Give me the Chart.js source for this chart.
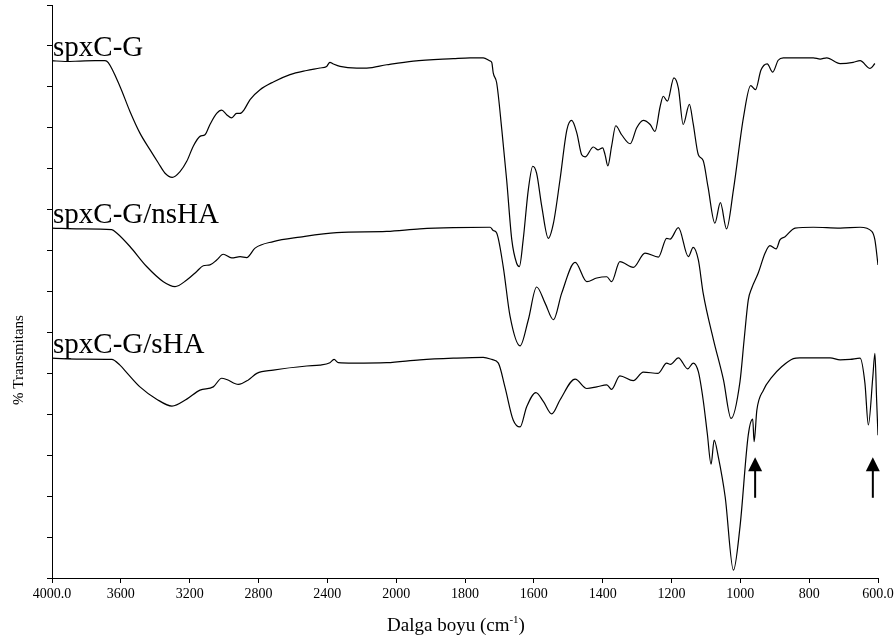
<!DOCTYPE html>
<html><head><meta charset="utf-8">
<script src="https://cdn.jsdelivr.net/npm/chart.js@4.4.1/dist/chart.umd.min.js"></script>
<style>html,body{margin:0;padding:0;background:#fff;}#wrap{width:894px;height:641px;}</style>
</head><body><div id="wrap"><canvas id="c" width="894" height="641"></canvas></div>
<script>
// ---- data ----
const seriesNames = ['spxC-G', 'spxC-G/nsHA', 'spxC-G/sHA'];
const xTickValues = [4000, 3600, 3200, 2800, 2400, 2000, 1800, 1600, 1400, 1200, 1000, 800, 600];
const xTickLabels = ['4000.0', '3600', '3200', '2800', '2400', '2000', '1800', '1600', '1400', '1200', '1000', '800', '600.0'];

const spxCG_wn = [4000,3924,3837,3750,3692,3673,3605,3547,3489,3430,3382,3343,3301,3256,3217,3179,3140,3111,3082,3043,3014,2985,2956,2927,2907,2884,2849,2791,2714,2617,2520,2443,2404,2385,2365,2326,2229,2171,2055,1950,1834,1785,1747,1727,1722,1718,1708,1693,1679,1664,1650,1642,1631,1616,1603,1592,1577,1558,1543,1524,1504,1490,1475,1461,1451,1427,1413,1400,1393,1385,1374,1362,1345,1320,1301,1282,1262,1248,1233,1224,1212,1193,1180,1166,1148,1137,1122,1108,1094,1074,1058,1040,1020,991,970,956,940,922,906,890,875,788,768,749,710,672,652,623,609];
const spxCG_T = [126.4,126.2,126.3,126.4,126.4,125.9,120.1,114.0,108.7,104.6,101.4,98.9,97.9,99.3,101.8,105.5,107.9,108.3,110.8,113.5,114.3,113.2,112.4,113.5,113.5,114.4,116.9,119.3,121.2,123.0,124.0,124.6,125.0,126.0,125.6,125.0,124.6,124.6,125.4,126.3,126.9,127.1,127.1,126.3,125.9,123.4,121.0,109.5,97.3,82.6,76.9,76.1,82.6,94.9,100.6,98.9,90.8,83.0,86.7,97.3,109.5,111.8,108.7,103.4,102.9,105.3,104.6,105.1,103.4,100.7,105.5,110.5,108.3,106.1,110.0,111.8,110.8,109.1,115.2,117.7,116.5,122.2,119.7,110.8,115.7,111.0,103.4,102.0,95.6,86.7,91.7,85.3,94.9,112.5,120.3,119.3,124.1,125.6,123.6,126.5,127.1,127.1,126.8,127.1,125.7,126.0,126.4,124.5,125.7];

const nsHA_wn = [4000,3837,3653,3624,3547,3450,3353,3285,3217,3159,3121,3082,3043,3005,2956,2907,2869,2820,2714,2559,2346,2055,1931,1834,1727,1718,1708,1689,1669,1640,1616,1592,1567,1543,1519,1480,1446,1417,1388,1374,1350,1311,1277,1238,1214,1204,1180,1151,1137,1122,1108,1078,1049,1027,1001,989,977,967,948,928,914,896,885,870,841,788,710,652,618,609,600];
const nsHA_T = [85.5,85.3,85.1,84.3,81.0,76.1,72.4,71.2,72.8,74.9,76.3,76.5,77.7,79.1,78.2,78.5,78.3,80.6,82.2,83.3,84.4,84.7,85.3,85.6,85.7,84.9,84.3,76.1,63.9,56.7,63.1,71.1,67.1,63.1,69.6,77.1,72.4,73.3,73.6,72.4,77.3,75.9,79.4,78.4,83.0,82.8,85.6,78.5,80.8,77.7,69.6,58.2,48.4,39.0,48.0,58.2,67.9,70.8,74.5,79.4,81.2,80.4,82.6,83.4,85.5,85.7,85.5,85.7,84.7,82.6,76.5];

const sHA_wn = [4000,3837,3653,3605,3562,3489,3392,3303,3217,3140,3063,3014,2985,2917,2859,2810,2714,2520,2443,2385,2361,2336,2249,2055,1931,1834,1747,1722,1703,1684,1660,1640,1621,1594,1572,1548,1524,1480,1446,1417,1388,1374,1350,1311,1282,1239,1214,1203,1180,1153,1137,1122,1108,1096,1085,1076,1064,1044,1020,1001,977,964,960,952,933,909,880,846,827,739,710,681,652,638,628,615,609,604,600];
const sHA_T = [53.7,53.5,53.4,52.0,50.0,46.7,43.7,42.0,43.7,45.9,46.7,48.8,48.5,47.3,48.4,50.0,50.8,51.8,52.0,52.6,53.4,52.6,52.5,52.6,53.3,53.7,53.9,53.4,52.5,46.7,38.6,36.9,41.8,45.3,43.1,40.1,43.5,48.6,46.3,46.7,47.2,46.1,49.4,48.2,50.3,50.0,52.5,52.2,53.8,51.1,52.5,50.4,43.5,35.3,27.8,33.7,29.6,19.8,1.9,12.5,34.9,38.8,33.3,41.0,45.9,49.0,51.6,53.6,53.8,53.8,53.3,53.4,53.7,47.6,37.4,49.2,54.9,43.5,34.9];

const arrowWavenumbers = [957, 615];
const arrowTail = 19.6;
const arrowTip = 29.5;

// ---- split wavenumber scale (4000-2000 compressed 2x) ----
const BREAK = 2000;
function wnPos(v) { return v >= BREAK ? (4000 - v) / 400 : (4000 - BREAK) / 400 + (BREAK - v) / 200; }
class SplitWaveScale extends Chart.LinearScale {
  buildTicks() { return xTickValues.map(v => ({ value: v })); }
  getPixelForValue(v) {
    if (v === null || v === undefined) return NaN;
    return this.getPixelForDecimal(wnPos(v) / wnPos(this.min));
  }
  getValueForPixel(p) {
    const u = this.getDecimalForPixel(p) * wnPos(this.min);
    return u <= 5 ? 4000 - 400 * u : BREAK - 200 * (u - 5);
  }
}
SplitWaveScale.id = 'splitwave';
SplitWaveScale.defaults = {};
Chart.register(SplitWaveScale);

const toPts = (xs, ys) => xs.map((w, i) => ({ x: w, y: ys[i] }));
const FONT = '"Liberation Serif", "Times New Roman", serif';

const annot = {
  id: 'annot',
  afterDatasetsDraw(chart) {
    const { ctx, scales: { x, y }, chartArea } = chart;
    ctx.save();
    ctx.fillStyle = '#000';
    ctx.strokeStyle = '#000';
    // trace labels
    ctx.font = '29px ' + FONT;
    ctx.textAlign = 'left';
    ctx.textBaseline = 'alphabetic';
    chart.data.datasets.forEach(ds => {
      const p = ds.data[0];
      ctx.fillText(ds.label, x.getPixelForValue(p.x) + 1, y.getPixelForValue(p.y) - 5);
    });
    // arrows
    arrowWavenumbers.forEach(w => {
      const px = x.getPixelForValue(w);
      const yt = y.getPixelForValue(arrowTip);
      const yb = y.getPixelForValue(arrowTail);
      ctx.beginPath();
      ctx.moveTo(px, yt);
      ctx.lineTo(px + 7, yt + 14);
      ctx.lineTo(px - 7, yt + 14);
      ctx.closePath();
      ctx.fill();
      ctx.lineWidth = 2;
      ctx.beginPath();
      ctx.moveTo(px, yt + 12);
      ctx.lineTo(px, yb);
      ctx.stroke();
    });
    // y title
    ctx.save();
    ctx.font = '15px ' + FONT;
    ctx.textAlign = 'center';
    ctx.textBaseline = 'middle';
    ctx.translate(19, chartArea.top + 355);
    ctx.rotate(-Math.PI / 2);
    ctx.fillText('% Transmitans', 0, 0);
    ctx.restore();
    // x title with superscript
    const main = 'Dalga boyu (cm', sup = '-1', close = ')';
    const fMain = '19px ' + FONT, fSup = '11px ' + FONT;
    ctx.font = fMain; const w1 = ctx.measureText(main).width; const w3 = ctx.measureText(close).width;
    ctx.font = fSup; const w2 = ctx.measureText(sup).width;
    const total = w1 + w2 + w3;
    let sx = (chartArea.left + chartArea.right) / 2 - 9 - total / 2;
    const base = chartArea.bottom + 53;
    ctx.textAlign = 'left'; ctx.textBaseline = 'alphabetic';
    ctx.font = fMain; ctx.fillText(main, sx, base); sx += w1;
    ctx.font = fSup; ctx.fillText(sup, sx, base - 8); sx += w2;
    ctx.font = fMain; ctx.fillText(close, sx, base);
    ctx.restore();
  }
};

new Chart(document.getElementById('c').getContext('2d'), {
  type: 'line',
  data: {
    datasets: [
      { label: seriesNames[0], data: toPts(spxCG_wn, spxCG_T) },
      { label: seriesNames[1], data: toPts(nsHA_wn, nsHA_T) },
      { label: seriesNames[2], data: toPts(sHA_wn, sHA_T) }
    ]
  },
  options: {
    responsive: false,
    animation: false,
    devicePixelRatio: 1,
    layout: { padding: { top: 5, right: 16, bottom: 0, left: 0 } },
    plugins: { legend: { display: false }, tooltip: { enabled: false } },
    elements: {
      point: { radius: 0 },
      line: { borderWidth: 1.2, borderColor: '#000', cubicInterpolationMode: 'monotone', fill: false }
    },
    scales: {
      x: {
        type: 'splitwave', min: 600, max: 4000,
        afterFit(s) { s.height = 63; s.paddingLeft = 0; s.paddingRight = 0; },
        grid: { drawOnChartArea: false, drawTicks: true, tickLength: 5, color: '#000' },
        border: { color: '#000', width: 1 },
        ticks: {
          autoSkip: false, maxRotation: 0, minRotation: 0, padding: 3, color: '#000',
          font: { family: FONT, size: 14 },
          callback: (v) => xTickLabels[xTickValues.indexOf(v)]
        }
      },
      y: {
        type: 'linear', min: 0, max: 140,
        afterFit(s) { s.width = 52; },
        ticks: { display: false, stepSize: 10 },
        grid: { drawOnChartArea: false, drawTicks: true, tickLength: 5, color: '#000' },
        border: { color: '#000', width: 1 }
      }
    }
  },
  plugins: [annot]
});
</script></body></html>
